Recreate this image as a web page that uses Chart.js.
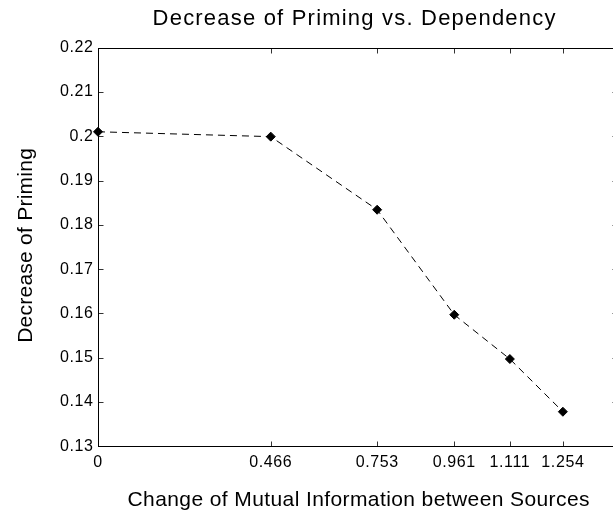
<!DOCTYPE html>
<html>
<head>
<meta charset="utf-8">
<script src="https://cdn.jsdelivr.net/npm/chart.js@4/dist/chart.umd.min.js"></script>
<style>
  html, body { margin: 0; padding: 0; background: #fff; overflow: hidden; }
  #wrap { width: 625px; height: 512px; }
</style>
</head>
<body>
<div id="wrap"><canvas id="c" width="625" height="512"></canvas></div>
<script>
// ---- data ----
const xValues = [0, 0.466, 0.753, 0.961, 1.111, 1.254];
const priming = [0.2010, 0.1999, 0.1834, 0.1597, 0.1497, 0.1378];
const xTickValues = [0, 0.466, 0.753, 0.961, 1.111, 1.254];
const xTickLabels = ['0', '0.466', '0.753', '0.961', '1.111', '1.254'];
const yTickValues = [0.13, 0.14, 0.15, 0.16, 0.17, 0.18, 0.19, 0.2, 0.21, 0.22];
const yTickLabels = ['0.13', '0.14', '0.15', '0.16', '0.17', '0.18', '0.19', '0.2', '0.21', '0.22'];
const titleText = 'Decrease of Priming vs. Dependency';
const xTitleText = 'Change of Mutual Information between Sources';
const yTitleText = 'Decrease of Priming';

const FONT = '"Liberation Sans", Arial, Helvetica, sans-serif';

const points = xValues.map((x, i) => ({ x: x, y: priming[i] }));

function spacedText(ctx, text, x, y, spacing) {
  if ('letterSpacing' in ctx) {
    ctx.letterSpacing = spacing + 'px';
    ctx.fillText(text, x + spacing / 2, y);
    ctx.letterSpacing = '0px';
  } else {
    ctx.fillText(text, x, y);
  }
}

const frame = {
  id: 'frame',
  beforeDraw(chart) {
    if ('letterSpacing' in chart.ctx) chart.ctx.letterSpacing = '0.6px';
  },
  beforeDatasetsDraw(chart) {
    if ('letterSpacing' in chart.ctx) chart.ctx.letterSpacing = '0px';
  },
  afterDatasetsDraw(chart) {
    const ctx = chart.ctx;
    const a = chart.chartArea;
    const xs = chart.scales.x, ys = chart.scales.y;
    const L = Math.round(a.left) + 0.5, R = Math.round(a.right) + 0.5;
    const T = Math.round(a.top) + 0.5, B = Math.round(a.bottom) + 0.5;
    ctx.save();
    // tick marks (inward)
    ctx.strokeStyle = '#333';
    ctx.lineWidth = 1;
    ctx.beginPath();
    xTickValues.forEach(v => {
      const px = Math.round(xs.getPixelForValue(v)) + 0.5;
      ctx.moveTo(px, B); ctx.lineTo(px, B - 5);
      ctx.moveTo(px, T); ctx.lineTo(px, T + 5);
    });
    yTickValues.forEach(v => {
      const py = Math.round(ys.getPixelForValue(v)) + 0.5;
      ctx.moveTo(L, py); ctx.lineTo(L + 5, py);
      ctx.moveTo(R, py); ctx.lineTo(R - 5, py);
    });
    ctx.stroke();
    // box
    ctx.strokeStyle = '#000';
    ctx.lineWidth = 1;
    ctx.strokeRect(L, T, R - L, B - T);
    ctx.restore();
  },
  afterDraw(chart) {
    const ctx = chart.ctx;
    ctx.save();
    ctx.fillStyle = '#000';
    ctx.textAlign = 'center';
    ctx.textBaseline = 'alphabetic';
    ctx.font = '22px ' + FONT;
    spacedText(ctx, titleText, 354, 25, 1.2);
    ctx.font = '21px ' + FONT;
    spacedText(ctx, xTitleText, 358.5, 506, 0.4);
    ctx.translate(32, 245.5);
    ctx.rotate(-Math.PI / 2);
    spacedText(ctx, yTitleText, 0, 0, 0.25);
    ctx.restore();
  }
};

new Chart(document.getElementById('c'), {
  type: 'scatter',
  data: {
    datasets: [{
      data: points,
      showLine: true,
      borderColor: '#000',
      borderWidth: 1,
      borderDash: [7, 5],
      backgroundColor: '#000',
      pointStyle: 'rectRot',
      pointRadius: 4.5,
      pointHoverRadius: 4.5,
      pointBackgroundColor: '#000',
      pointBorderColor: '#000',
      pointBorderWidth: 1,
      tension: 0,
      clip: false
    }]
  },
  options: {
    responsive: false,
    devicePixelRatio: 1,
    animation: false,
    events: [],
    layout: { padding: { left: 0, top: 47.6, right: 8, bottom: 0 } },
    plugins: {
      legend: { display: false },
      title: { display: false },
      tooltip: { enabled: false }
    },
    scales: {
      x: {
        type: 'linear',
        min: 0,
        max: 1.4,
        grid: { display: false, tickLength: 0 },
        border: { display: false },
        afterBuildTicks: (s) => { s.ticks = xTickValues.map(v => ({ value: v })); },
        afterFit: (s) => { s.height = 512 - 446.3; },
        ticks: {
          autoSkip: false,
          maxRotation: 0,
          color: '#000',
          font: { family: FONT, size: 16 },
          padding: 7,
          callback: (v) => { const i = xTickValues.indexOf(v); return i >= 0 ? xTickLabels[i] : ''; }
        }
      },
      y: {
        type: 'linear',
        min: 0.13,
        max: 0.22,
        grid: { display: false, tickLength: 0 },
        border: { display: false },
        afterBuildTicks: (s) => { s.ticks = yTickValues.map(v => ({ value: v })); },
        afterFit: (s) => { s.width = 98; },
        ticks: {
          autoSkip: false,
          color: '#000',
          font: { family: FONT, size: 16 },
          padding: 4.4,
          callback: (v) => { const i = yTickValues.findIndex(t => Math.abs(t - v) < 1e-9); return i >= 0 ? yTickLabels[i] : ''; }
        }
      }
    }
  },
  plugins: [frame]
});
</script>
</body>
</html>
